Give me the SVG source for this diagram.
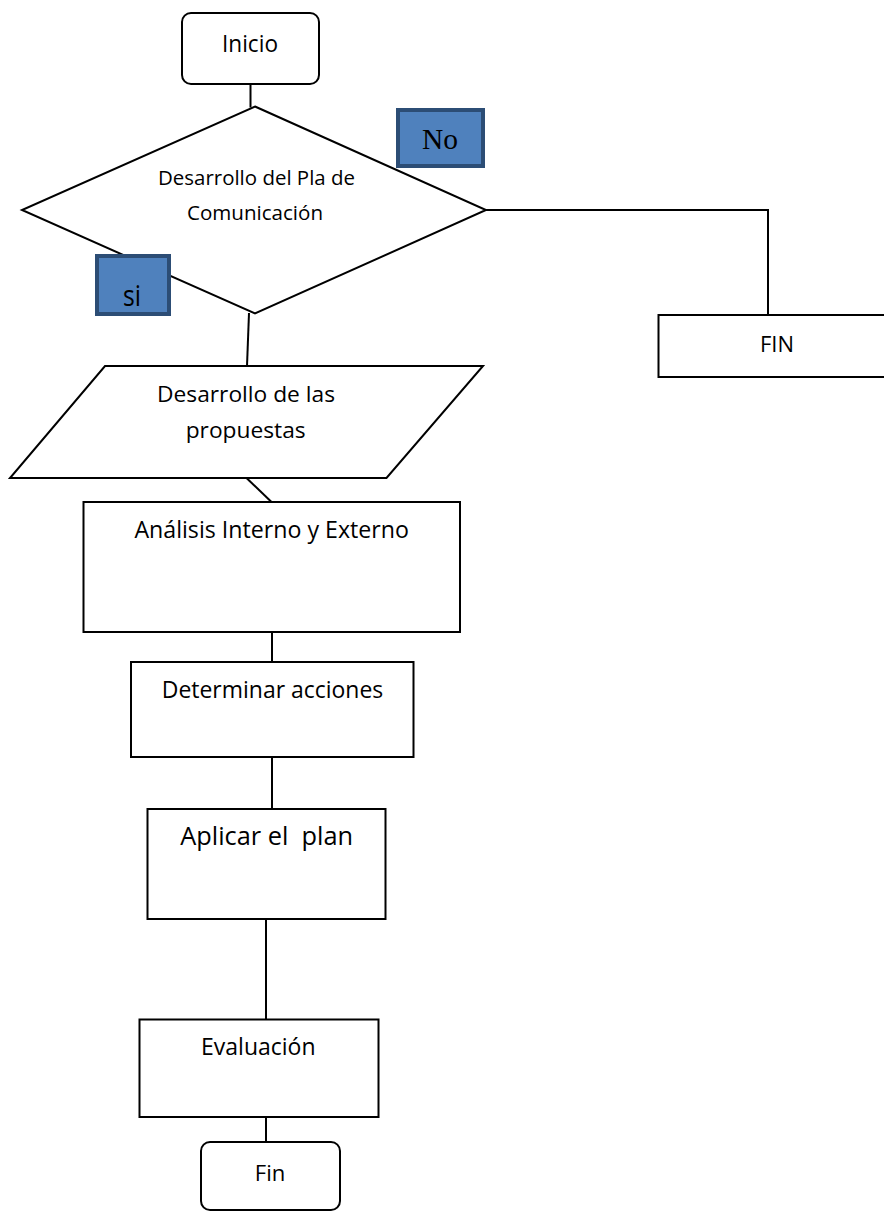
<svg xmlns="http://www.w3.org/2000/svg" width="884" height="1212" viewBox="0 0 884 1212">
  <style>
    .shape { fill: #ffffff; stroke: #000000; stroke-width: 2; }
    .wire { fill: none; stroke: #000000; stroke-width: 2; }
    .tag { fill: #4F81BD; stroke: #2C4D75; stroke-width: 4; }
    .lbl { font-family: "Open Sans", "Noto Sans", sans-serif; fill: #000000; text-anchor: middle; }
    .serif { font-family: "Liberation Serif", "Times New Roman", serif; fill: #000000; text-anchor: middle; }
  </style>
  <rect width="884" height="1212" fill="#ffffff"/>

  <!-- connectors -->
  <g id="connectors">
    <line class="wire" x1="250.5" y1="84" x2="250.5" y2="107.5"/>
    <polyline class="wire" points="486,210 768,210 768,315"/>
    <line class="wire" x1="249" y1="313" x2="247" y2="366"/>
    <line class="wire" x1="246.5" y1="478" x2="271.5" y2="502"/>
    <line class="wire" x1="272" y1="632" x2="272" y2="662"/>
    <line class="wire" x1="272" y1="757" x2="272" y2="809"/>
    <line class="wire" x1="266" y1="919" x2="266" y2="1019.5"/>
    <line class="wire" x1="266" y1="1117" x2="266" y2="1142"/>
  </g>

  <!-- start -->
  <g id="inicio">
    <rect class="shape" x="182" y="13" width="137" height="71" rx="9"/>
    <text class="lbl" x="250" y="52" font-size="23" textLength="56" lengthAdjust="spacingAndGlyphs">Inicio</text>
  </g>

  <!-- decision -->
  <g id="decision">
    <polygon class="shape" points="255,106.5 486,210 255,313.5 22,210"/>
    <text class="lbl" x="256.5" y="185" font-size="20.5" textLength="197" lengthAdjust="spacingAndGlyphs">Desarrollo del Pla de</text>
    <text class="lbl" x="255" y="220" font-size="20.5" textLength="136" lengthAdjust="spacingAndGlyphs">Comunicación</text>
  </g>

  <g id="tag-no">
    <rect class="tag" x="398" y="110" width="85" height="56"/>
    <text class="serif" x="440" y="149" font-size="29" textLength="36" lengthAdjust="spacingAndGlyphs">No</text>
  </g>

  <g id="tag-si">
    <rect class="tag" x="97" y="256" width="72" height="58"/>
    <text class="lbl" x="132" y="305.5" font-size="29" textLength="18" lengthAdjust="spacingAndGlyphs">si</text>
  </g>

  <!-- end on the "No" branch -->
  <g id="fin-no">
    <rect class="shape" x="658.5" y="315" width="240" height="62"/>
    <text class="lbl" x="777" y="352" font-size="21.7" textLength="34" lengthAdjust="spacingAndGlyphs">FIN</text>
  </g>

  <!-- proposals -->
  <g id="propuestas">
    <polygon class="shape" points="105,366 483,366 386.5,478 10,478"/>
    <text class="lbl" x="246" y="401.5" font-size="22.7" textLength="178" lengthAdjust="spacingAndGlyphs">Desarrollo de las</text>
    <text class="lbl" x="245.7" y="438" font-size="22.7" textLength="120" lengthAdjust="spacingAndGlyphs">propuestas</text>
  </g>

  <g id="analisis">
    <rect class="shape" x="83.5" y="502" width="376.5" height="130"/>
    <text class="lbl" x="271.7" y="538" font-size="23" textLength="274.5" lengthAdjust="spacingAndGlyphs">Análisis Interno y Externo</text>
  </g>

  <g id="acciones">
    <rect class="shape" x="131" y="662" width="282.5" height="95"/>
    <text class="lbl" x="272.5" y="698" font-size="23" textLength="221.5" lengthAdjust="spacingAndGlyphs">Determinar acciones</text>
  </g>

  <g id="aplicar">
    <rect class="shape" x="147.5" y="809" width="238" height="110"/>
    <text class="lbl" x="266.7" y="845" font-size="25.4" textLength="173" lengthAdjust="spacingAndGlyphs" style="white-space:pre">Aplicar el  plan</text>
  </g>

  <g id="evaluacion">
    <rect class="shape" x="139.5" y="1019.5" width="239" height="97.5"/>
    <text class="lbl" x="258.3" y="1055" font-size="23" textLength="114.5" lengthAdjust="spacingAndGlyphs">Evaluación</text>
  </g>

  <!-- final end -->
  <g id="fin">
    <rect class="shape" x="201" y="1142" width="139" height="68" rx="9"/>
    <text class="lbl" x="270" y="1180.5" font-size="22" textLength="30.5" lengthAdjust="spacingAndGlyphs">Fin</text>
  </g>
</svg>
